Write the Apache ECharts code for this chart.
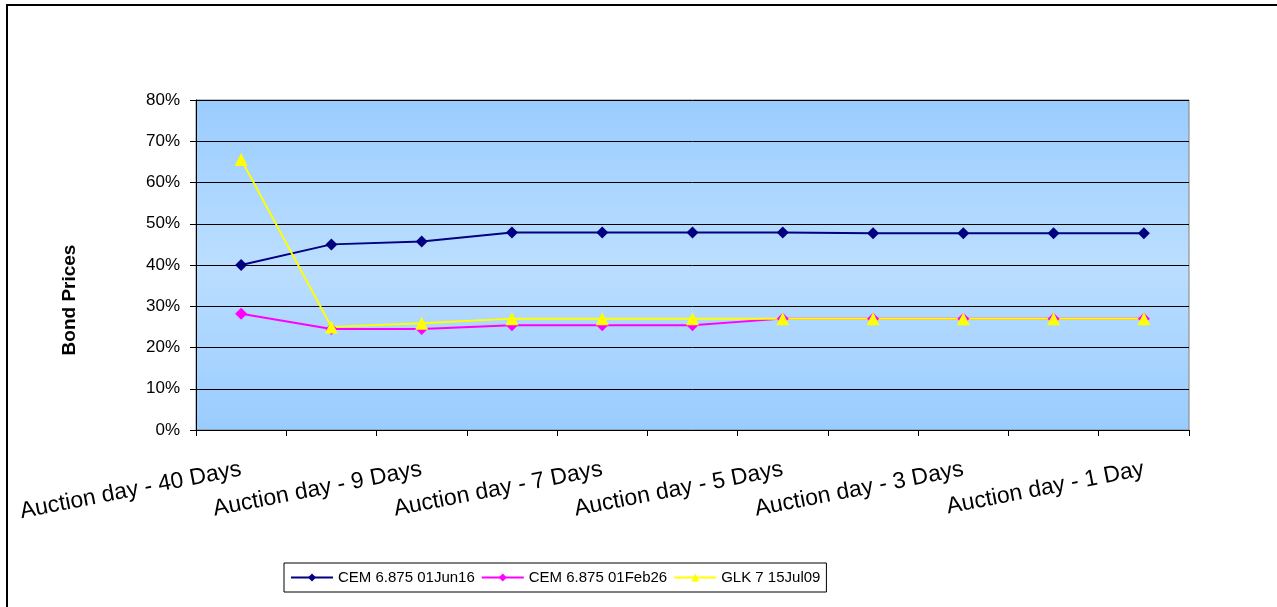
<!DOCTYPE html>
<html>
<head>
<meta charset="utf-8">
<script src="https://cdn.jsdelivr.net/npm/echarts@6/dist/echarts.min.js"></script>
<style>
  html, body { margin: 0; padding: 0; background: #fff; }
  #chart { width: 1277px; height: 607px; }
</style>
</head>
<body>
<div id="chart"></div>
<script>
// 数据
const categories = [
    'Auction day - 40 Days', 'Auction day - 10 Days', 'Auction day - 9 Days',
    'Auction day - 8 Days', 'Auction day - 7 Days', 'Auction day - 6 Days',
    'Auction day - 5 Days', 'Auction day - 4 Days', 'Auction day - 3 Days',
    'Auction day - 2 Days', 'Auction day - 1 Day'
];
const seriesNames = ['CEM 6.875 01Jun16', 'CEM 6.875 01Feb26', 'GLK 7 15Jul09'];
const cemJun16 = [0.400, 0.450, 0.457, 0.479, 0.479, 0.479, 0.479, 0.477, 0.477, 0.477, 0.477];
const cemFeb26 = [0.282, 0.245, 0.245, 0.254, 0.254, 0.254, 0.270, 0.270, 0.270, 0.270, 0.270];
const glkJul09 = [0.656, 0.250, 0.259, 0.270, 0.270, 0.270, 0.270, 0.270, 0.270, 0.270, 0.270];
const yTitle = 'Bond Prices';

const FONT = 'Liberation Sans, Arial, sans-serif';

const chart = echarts.init(document.getElementById('chart'));

function lineSeries(name, data, color, symbol, size) {
    return {
        name: name,
        type: 'line',
        data: data,
        symbol: symbol,
        symbolSize: size,
        showAllSymbol: true,
        lineStyle: { color: color, width: 2 },
        itemStyle: { color: color },
        emphasis: { disabled: true },
        animation: false
    };
}

chart.setOption({
    animation: false,
    textStyle: { fontFamily: FONT },
    graphic: [{
        type: 'rect',
        shape: { x: 7, y: 5, width: 1300, height: 700 },
        style: { fill: 'none', stroke: '#000', lineWidth: 2 },
        silent: true
    }, {
        // 纵轴标题（原图略偏下）
        type: 'text',
        x: 70, y: 300,
        rotation: Math.PI / 2,
        style: {
            text: yTitle,
            align: 'center',
            verticalAlign: 'middle',
            font: 'bold 19px ' + FONT,
            fill: '#000'
        },
        silent: true
    }],
    grid: {
        left: 196, top: 100, right: 88, bottom: 177,
        show: true,
        borderColor: '#808080',
        borderWidth: 1,
        backgroundColor: {
            type: 'linear', x: 0, y: 0, x2: 0, y2: 1,
            colorStops: [
                { offset: 0, color: '#99ccff' },
                { offset: 0.5, color: '#bbdeff' },
                { offset: 1, color: '#99ccff' }
            ]
        }
    },
    legend: {
        left: 284, top: 563,
        data: seriesNames,
        itemWidth: 42, itemHeight: 10, itemGap: 6,
        padding: [7, 6],
        borderColor: '#000', borderWidth: 1,
        backgroundColor: '#fff',
        textStyle: { fontSize: 15, color: '#000', fontFamily: FONT }
    },
    xAxis: {
        type: 'category',
        data: categories,
        boundaryGap: true,
        axisLine: { lineStyle: { color: '#000', width: 1 } },
        axisTick: { show: true, interval: 0, length: 6, lineStyle: { color: '#000' } },
        axisLabel: {
            interval: 1,
            rotate: 11,
            fontSize: 23,
            color: '#000',
            margin: 39,
            fontFamily: FONT
        },
        splitLine: { show: false }
    },
    yAxis: {
        type: 'value',
        min: 0, max: 0.8, interval: 0.1,
        axisLine: { show: true, lineStyle: { color: '#000', width: 1 } },
        axisTick: { show: true, length: 6, lineStyle: { color: '#000' } },
        axisLabel: {
            fontSize: 17, color: '#000', margin: 16, fontFamily: FONT,
            formatter: v => Math.round(v * 100) + '%'
        },
        splitLine: { show: true, lineStyle: { color: '#000', width: 1 } }
    },
    series: [
        lineSeries(seriesNames[0], cemJun16, '#000080', 'diamond', 12),
        lineSeries(seriesNames[1], cemFeb26, '#ff00ff', 'diamond', 12),
        lineSeries(seriesNames[2], glkJul09, '#ffff00', 'triangle', 13)
    ]
});
</script>
</body>
</html>
